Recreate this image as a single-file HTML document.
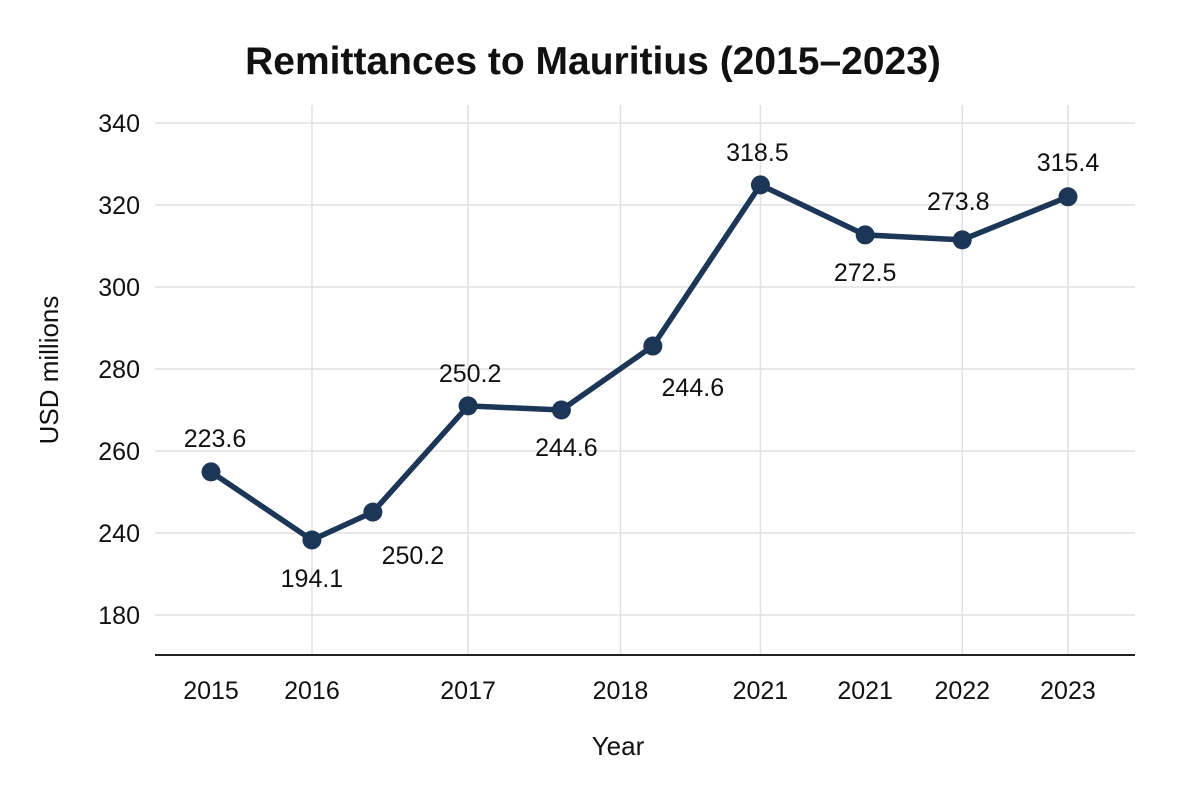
<!DOCTYPE html>
<html><head><meta charset="utf-8"><style>
body{margin:0;background:#fff;width:1200px;height:800px;overflow:hidden}
svg{font-family:"Liberation Sans",sans-serif}
</style></head><body>
<svg width="1200" height="800" id="chart">
<text x="593" y="74" text-anchor="middle" font-size="39" font-weight="bold" fill="#111">Remittances to Mauritius (2015–2023)</text>
<text transform="translate(58,370) rotate(-90)" text-anchor="middle" font-size="26" fill="#111">USD millions</text>
<text x="618" y="755" text-anchor="middle" font-size="26" fill="#111">Year</text>
<g id="grid"></g><g id="axes"></g><g id="series"></g><g id="labels"></g>
</svg>
<script>
const yTickValues=[340,320,300,280,260,240,220];
const yTickLabels=["340","320","300","280","260","240","180"];
const xTickPos=[0,1.06,2.7,4.3,5.77,6.87,7.89,9];
const xTickLabels=["2015","2016","2017","2018","2021","2021","2022","2023"];
const xGridPos=[1.06,2.7,4.3,5.77,7.89,9];
const pointX=[0,1.06,1.7,2.7,3.68,4.64,5.77,6.87,7.89,9];
const pointY=[254.9,238.3,245.1,271.0,270.0,285.6,324.9,312.7,311.5,322.0];
const pointLabels=["223.6","194.1","250.2","250.2","244.6","244.6","318.5","272.5","273.8","315.4"];
const labelDx=[4,0,40,2,5,40,-3,0,-4,0];
const labelDy=[-25,47,52,-24,46,50,-24,46,-30,-26];
const x=v=>211+v*95.22;
const y=v=>123+(340-v)*4.1;
const NS="http://www.w3.org/2000/svg";
function mk(tag,attrs,parent){const e=document.createElementNS(NS,tag);for(const k in attrs)e.setAttribute(k,attrs[k]);document.getElementById(parent).appendChild(e);return e;}
yTickValues.forEach((v,i)=>{
 const g=mk('line',{x1:155,x2:1135,y1:y(v),y2:y(v),stroke:'#e0e0e0','stroke-width':1.5},'grid');
 
 
 const t=mk('text',{x:140,y:y(v)+9,'text-anchor':'end','font-size':25,fill:'#111'},'axes');
 t.textContent=yTickLabels[i];
 
 
});
xGridPos.forEach(v=>{
 const g=mk('line',{x1:x(v),x2:x(v),y1:105,y2:655,stroke:'#e0e0e0','stroke-width':1.5},'grid');
 
 
});
const ax=mk('line',{x1:155,x2:1135,y1:655,y2:655,stroke:'#222','stroke-width':2},'axes');


xTickPos.forEach((v,i)=>{
 const t=mk('text',{x:x(v),y:699,'text-anchor':'middle','font-size':25,fill:'#111'},'axes');
 t.textContent=xTickLabels[i];
 
 
});
const d=pointX.map((v,i)=>(i?'L':'M')+x(v)+','+y(pointY[i])).join(' ');
const p=mk('path',{d:d,fill:'none',stroke:'#1c3657','stroke-width':5.5,'stroke-linejoin':'round'},'series');


pointX.forEach((v,i)=>{
 const c=mk('circle',{cx:x(v),cy:y(pointY[i]),r:9.5,fill:'#1c3657'},'series');
 
 
 const t=mk('text',{x:x(v)+labelDx[i],y:y(pointY[i])+labelDy[i],'text-anchor':'middle','font-size':25,fill:'#111'},'labels');
 t.textContent=pointLabels[i];
 
 
});
</script>
</body></html>
